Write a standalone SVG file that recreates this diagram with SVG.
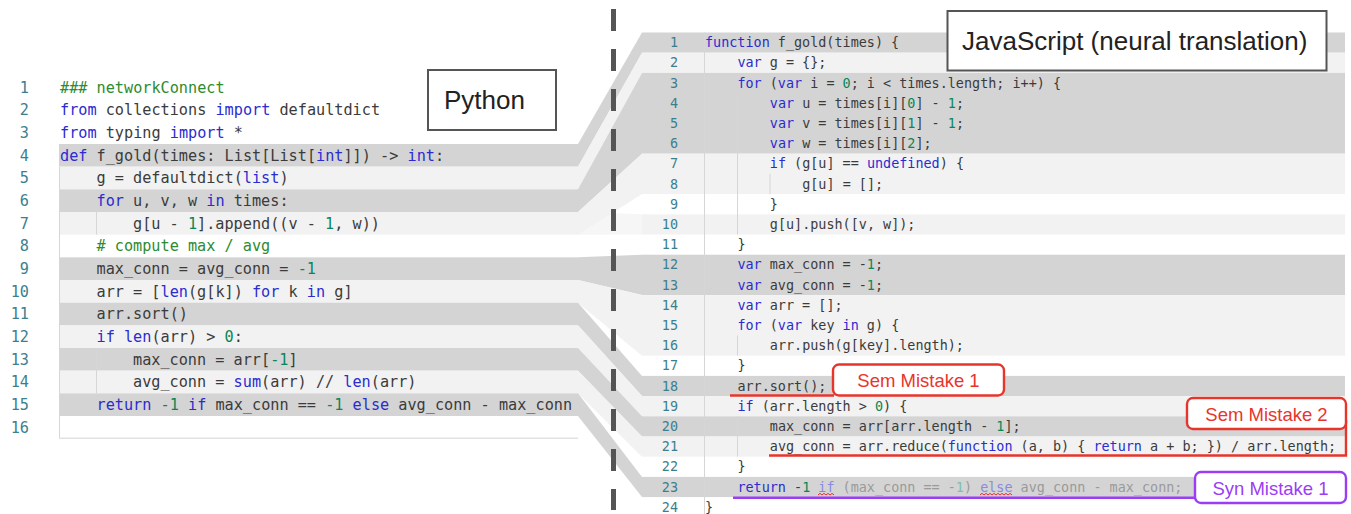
<svg xmlns="http://www.w3.org/2000/svg" width="1351" height="514" viewBox="0 0 1351 514">
<style>
.py{font-family:"DejaVu Sans Mono","Liberation Mono",monospace;font-size:15.2px;fill:#3b3b3b}
.js{font-family:"DejaVu Sans Mono","Liberation Mono",monospace;font-size:13.45px;fill:#3b3b3b}
.ln{fill:#3b7f8f}
.k{fill:#2b2bd0}
.n{fill:#098658}
.c{fill:#2e8b2e}
.f{fill:#9a9a9a}
.fk{fill:#8a8ae0}
.fn{fill:#80bfa8}
.dk{fill:#d4d4d4}
.lt{fill:#f2f2f2}
.guide{stroke:#d6d6d6;stroke-width:1}
.lbl{font-family:"Liberation Sans",Arial,sans-serif;font-size:26px;fill:#222}
.lblbox{fill:#fff;stroke:#555;stroke-width:2}
.mis{font-family:"Liberation Sans",Arial,sans-serif;font-size:18.5px;text-anchor:middle}
.red{stroke:#e8352b;fill:none;stroke-width:2.4}
.pur{stroke:#9a3df5;fill:none;stroke-width:2.4}
</style>

<g id="python-code">
  <rect class="dk" x="59" y="144" width="519" height="22.67"/>
  <rect class="lt" x="59" y="166.67" width="519" height="22.67"/>
  <rect class="dk" x="59" y="189.33" width="519" height="22.67"/>
  <rect class="lt" x="59" y="212" width="519" height="22.67"/>
  <rect class="dk" x="59" y="257.33" width="519" height="22.67"/>
  <rect class="lt" x="59" y="280" width="519" height="22.67"/>
  <rect class="dk" x="59" y="302.67" width="519" height="22.67"/>
  <rect class="lt" x="59" y="325.33" width="519" height="22.67"/>
  <rect class="dk" x="59" y="348" width="519" height="22.67"/>
  <rect class="lt" x="59" y="370.67" width="519" height="22.67"/>
  <rect class="dk" x="59" y="393.33" width="519" height="22.67"/>
  <line class="guide" x1="59.5" y1="166.67" x2="59.5" y2="438.67"/>
  <line class="guide" x1="96.5" y1="212" x2="96.5" y2="234.67"/>
  <line class="guide" x1="96.5" y1="348" x2="96.5" y2="393.33"/>
  <line x1="59" y1="438.2" x2="578" y2="438.2" stroke="#e2e2e2" stroke-width="1.5"/>
  <g class="py ln" text-anchor="end">
    <text x="29" y="92.5">1</text><text x="29" y="115.17">2</text><text x="29" y="137.83">3</text>
    <text x="29" y="160.5">4</text><text x="29" y="183.17">5</text><text x="29" y="205.83">6</text>
    <text x="29" y="228.5">7</text><text x="29" y="251.17">8</text><text x="29" y="273.83">9</text>
    <text x="29" y="296.5">10</text><text x="29" y="319.17">11</text><text x="29" y="341.83">12</text>
    <text x="29" y="364.5">13</text><text x="29" y="387.17">14</text><text x="29" y="409.83">15</text>
    <text x="29" y="432.5">16</text>
  </g>
  <g class="py">
    <text x="60" y="92.5" class="c">### networkConnect</text>
    <text x="60" y="115.17"><tspan class="k">from</tspan> collections <tspan class="k">import</tspan> defaultdict</text>
    <text x="60" y="137.83"><tspan class="k">from</tspan> typing <tspan class="k">import</tspan> *</text>
    <text x="60" y="160.5"><tspan class="k">def</tspan> f_gold(times: List[List[<tspan class="k">int</tspan>]]) -&gt; <tspan class="k">int</tspan>:</text>
    <text x="96.5" y="183.17">g = defaultdict(<tspan class="k">list</tspan>)</text>
    <text x="96.5" y="205.83"><tspan class="k">for</tspan> u, v, w <tspan class="k">in</tspan> times:</text>
    <text x="133" y="228.5">g[u - <tspan class="n">1</tspan>].append((v - <tspan class="n">1</tspan>, w))</text>
    <text x="96.5" y="251.17" class="c"># compute max / avg</text>
    <text x="96.5" y="273.83">max_conn = avg_conn = <tspan class="n">-1</tspan></text>
    <text x="96.5" y="296.5">arr = [<tspan class="k">len</tspan>(g[k]) <tspan class="k">for</tspan> k <tspan class="k">in</tspan> g]</text>
    <text x="96.5" y="319.17">arr.sort()</text>
    <text x="96.5" y="341.83"><tspan class="k">if</tspan> <tspan class="k">len</tspan>(arr) &gt; <tspan class="n">0</tspan>:</text>
    <text x="133" y="364.5">max_conn = arr[<tspan class="n">-1</tspan>]</text>
    <text x="133" y="387.17">avg_conn = <tspan class="k">sum</tspan>(arr) // <tspan class="k">len</tspan>(arr)</text>
    <text x="96.5" y="409.83"><tspan class="k">return</tspan> <tspan class="n">-1</tspan> <tspan class="k">if</tspan> max_conn == <tspan class="n">-1</tspan> <tspan class="k">else</tspan> avg_conn - max_conn</text>
  </g>
</g>

<g id="js-code">
  <rect class="dk" x="642" y="32.5" width="703" height="20.2"/>
  <rect class="lt" x="642" y="52.7" width="703" height="20.2"/>
  <rect class="dk" x="642" y="72.9" width="703" height="80.8"/>
  <rect class="lt" x="642" y="153.7" width="703" height="40.4"/>
  <rect class="lt" x="642" y="214.3" width="703" height="20.2"/>
  <rect class="dk" x="642" y="254.7" width="703" height="40.4"/>
  <rect class="lt" x="642" y="295.1" width="703" height="60.6"/>
  <rect class="dk" x="642" y="375.9" width="703" height="20.2"/>
  <rect class="lt" x="642" y="396.1" width="703" height="20.2"/>
  <rect class="dk" x="642" y="416.3" width="703" height="20.2"/>
  <rect class="lt" x="642" y="436.5" width="703" height="20.2"/>
  <rect class="dk" x="642" y="476.9" width="703" height="20.2"/>
  <line class="guide" x1="704.5" y1="32.5" x2="704.5" y2="514"/>
  <line class="guide" x1="737.5" y1="93.1" x2="737.5" y2="234.5"/>
  <line class="guide" x1="770" y1="173.9" x2="770" y2="194.1"/>
  <line class="guide" x1="737.5" y1="335.5" x2="737.5" y2="355.7"/>
  <line class="guide" x1="737.5" y1="416.3" x2="737.5" y2="456.7"/>
  <g class="js ln" text-anchor="end">
    <text x="678" y="47.2">1</text><text x="678" y="67.4">2</text><text x="678" y="87.6">3</text>
    <text x="678" y="107.8">4</text><text x="678" y="128">5</text><text x="678" y="148.2">6</text>
    <text x="678" y="168.4">7</text><text x="678" y="188.6">8</text><text x="678" y="208.8">9</text>
    <text x="678" y="229">10</text><text x="678" y="249.2">11</text><text x="678" y="269.4">12</text>
    <text x="678" y="289.6">13</text><text x="678" y="309.8">14</text><text x="678" y="330">15</text>
    <text x="678" y="350.2">16</text><text x="678" y="370.4">17</text><text x="678" y="390.6">18</text>
    <text x="678" y="410.8">19</text><text x="678" y="431">20</text><text x="678" y="451.2">21</text>
    <text x="678" y="471.4">22</text><text x="678" y="491.6">23</text><text x="678" y="511.8">24</text>
  </g>
  <g class="js">
    <text x="705" y="47.2"><tspan class="k">function</tspan> f_gold(times) {</text>
    <text x="737.4" y="67.4"><tspan class="k">var</tspan> g = {};</text>
    <text x="737.4" y="87.6"><tspan class="k">for</tspan> (<tspan class="k">var</tspan> i = <tspan class="n">0</tspan>; i &lt; times.length; i++) {</text>
    <text x="769.8" y="107.8"><tspan class="k">var</tspan> u = times[i][<tspan class="n">0</tspan>] - <tspan class="n">1</tspan>;</text>
    <text x="769.8" y="128"><tspan class="k">var</tspan> v = times[i][<tspan class="n">1</tspan>] - <tspan class="n">1</tspan>;</text>
    <text x="769.8" y="148.2"><tspan class="k">var</tspan> w = times[i][<tspan class="n">2</tspan>];</text>
    <text x="769.8" y="168.4"><tspan class="k">if</tspan> (g[u] == <tspan class="k">undefined</tspan>) {</text>
    <text x="802.2" y="188.6">g[u] = [];</text>
    <text x="769.8" y="208.8">}</text>
    <text x="769.8" y="229">g[u].push([v, w]);</text>
    <text x="737.4" y="249.2">}</text>
    <text x="737.4" y="269.4"><tspan class="k">var</tspan> max_conn = -<tspan class="n">1</tspan>;</text>
    <text x="737.4" y="289.6"><tspan class="k">var</tspan> avg_conn = -<tspan class="n">1</tspan>;</text>
    <text x="737.4" y="309.8"><tspan class="k">var</tspan> arr = [];</text>
    <text x="737.4" y="330"><tspan class="k">for</tspan> (<tspan class="k">var</tspan> key <tspan class="k">in</tspan> g) {</text>
    <text x="769.8" y="350.2">arr.push(g[key].length);</text>
    <text x="737.4" y="370.4">}</text>
    <text x="737.4" y="390.6">arr.sort();</text>
    <text x="737.4" y="410.8"><tspan class="k">if</tspan> (arr.length &gt; <tspan class="n">0</tspan>) {</text>
    <text x="769.8" y="431">max_conn = arr[arr.length - <tspan class="n">1</tspan>];</text>
    <text x="769.8" y="451.2">avg_conn = arr.reduce(<tspan class="k">function</tspan> (a, b) { <tspan class="k">return</tspan> a + b; }) / arr.length;</text>
    <text x="737.4" y="471.4">}</text>
    <text x="737.4" y="491.6"><tspan class="k">return</tspan> -<tspan class="n">1</tspan> <tspan class="fk">if</tspan> <tspan class="f">(max_conn == -</tspan><tspan class="fn">1</tspan><tspan class="f">)</tspan> <tspan class="fk">else</tspan> <tspan class="f">avg_conn - max_conn;</tspan></text>
    <text x="705" y="511.8">}</text>
  </g>
  <path d="M818,495 l2,-1.6 l2,1.6 l2,-1.6 l2,1.6 l2,-1.6 l2,1.6 l2,-1.6 l2,1.6" stroke="#e03030" stroke-width="1" fill="none"/>
  <path d="M980,495 l2,-1.6 l2,1.6 l2,-1.6 l2,1.6 l2,-1.6 l2,1.6 l2,-1.6 l2,1.6 l2,-1.6 l2,1.6 l2,-1.6 l2,1.6 l2,-1.6 l2,1.6 l2,-1.6 l2,1.6" stroke="#e03030" stroke-width="1" fill="none"/>
</g>

<g id="connectors">
  <polygon class="dk" points="578,144 642,32.5 642,52.7 578,166.67"/>
  <polygon class="lt" points="578,166.67 642,52.7 642,72.9 578,189.33"/>
  <polygon class="dk" points="578,189.33 642,72.9 642,153.7 578,212"/>
  <polygon class="lt" points="578,212 642,214.3 642,234.5 578,234.67" opacity="0.7"/>
  <polygon class="lt" points="578,212 642,153.7 642,194.1 578,234.67"/>
  <polygon class="dk" points="578,257.33 642,254.7 642,295.1 578,280"/>
  <polygon class="lt" points="578,280 642,295.1 642,355.7 578,302.67"/>
  <polygon class="dk" points="578,302.67 642,375.9 642,396.1 578,325.33"/>
  <polygon class="lt" points="578,325.33 642,396.1 642,416.3 578,348"/>
  <polygon class="dk" points="578,348 642,416.3 642,436.5 578,370.67"/>
  <polygon class="lt" points="578,370.67 642,436.5 642,456.7 578,393.33"/>
  <polygon class="dk" points="578,393.33 642,476.9 642,497.1 578,416"/>
</g>

<g id="divider">
  <line x1="613.5" y1="9" x2="613.5" y2="510" stroke="#555" stroke-width="5" stroke-dasharray="22 18"/>
</g>

<g id="python-label">
  <rect class="lblbox" x="428" y="70" width="128" height="60"/>
  <text class="lbl" x="444" y="109">Python</text>
</g>

<g id="js-label">
  <rect class="lblbox" x="947.5" y="11" width="379" height="59.5"/>
  <text class="lbl" x="962" y="50">JavaScript (neural translation)</text>
</g>

<g id="sem-mistake-1">
  <line class="red" x1="730" y1="395.5" x2="834" y2="395.5"/>
  <rect class="red" x="833" y="364.5" width="171" height="31" rx="6" fill="#fff" style="fill:#fff"/>
  <text class="mis" x="918.5" y="387" fill="#e8352b">Sem Mistake 1</text>
</g>

<g id="sem-mistake-2">
  <path class="red" d="M769,455.5 H1346 V420"/>
  <rect class="red" x="1187" y="398" width="159" height="31" rx="6" style="fill:#fff"/>
  <text class="mis" x="1266.5" y="420.5" fill="#e8352b">Sem Mistake 2</text>
</g>

<g id="syn-mistake-1">
  <line class="pur" x1="733" y1="497.7" x2="1196" y2="497.7"/>
  <rect class="pur" x="1195" y="472" width="151" height="31" rx="6" style="fill:#fff"/>
  <text class="mis" x="1270.5" y="494.5" fill="#9a3df5">Syn Mistake 1</text>
</g>
</svg>
